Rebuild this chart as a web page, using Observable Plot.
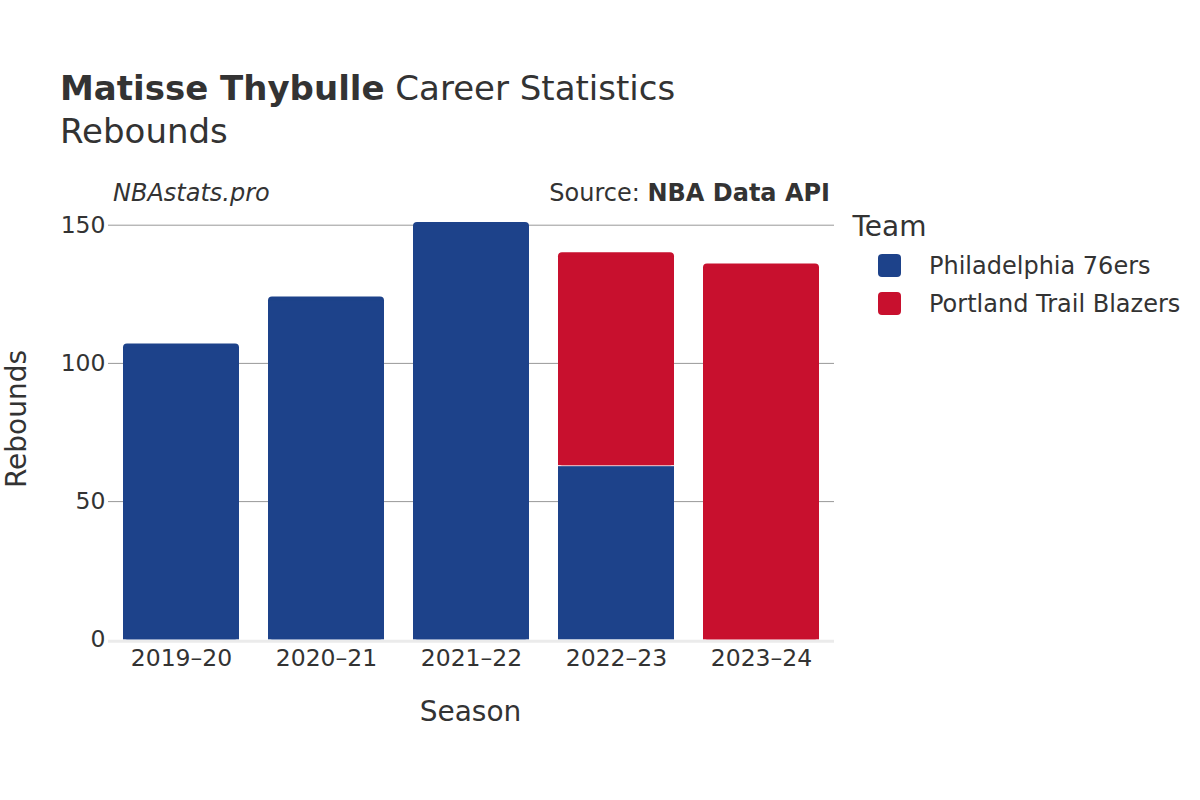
<!DOCTYPE html>
<html>
<head>
<meta charset="utf-8">
<script src="https://cdn.jsdelivr.net/npm/d3@7"></script>
<script src="https://cdn.jsdelivr.net/npm/@observablehq/plot@0.6"></script>
<style>
  html, body { margin: 0; padding: 0; background: #fff; }
  #wrap { position: relative; width: 1200px; height: 800px; overflow: hidden; font-family: "DejaVu Sans", sans-serif; color: #333; }
  #wrap svg { position: absolute; left: 0; top: 0; }
  .t { position: absolute; white-space: nowrap; line-height: 1; }
  .sw { position: absolute; width: 23px; height: 23px; border-radius: 4px; }
</style>
</head>
<body>
<div id="wrap"></div>
<script>
// ---- data ----
const seasons = ["2019–20", "2020–21", "2021–22", "2022–23", "2023–24"];
const teams = ["Philadelphia 76ers", "Portland Trail Blazers"];
const teamColors = ["#1D428A", "#C8102E"];
const rowSeason = ["2019–20", "2020–21", "2021–22", "2022–23", "2022–23", "2023–24"];
const rowTeam = ["Philadelphia 76ers", "Philadelphia 76ers", "Philadelphia 76ers", "Philadelphia 76ers", "Portland Trail Blazers", "Portland Trail Blazers"];
const rowRebounds = [107, 124, 151, 63, 77, 136];
const yTicks = [0, 50, 100, 150];

// ---- stack segments per season (data-derived) ----
const acc = new Map();
const rows = rowSeason.map((s, i) => {
  const y1 = acc.get(s) || 0;
  const y2 = y1 + rowRebounds[i];
  acc.set(s, y2);
  return {season: s, team: rowTeam[i], y1, y2};
});
rows.forEach(r => { r.isTop = r.y2 === acc.get(r.season); });
const topRows = rows.filter(r => r.isTop);
const lowRows = rows.filter(r => !r.isTop);

const wrap = document.getElementById("wrap");

const chart = Plot.plot({
  width: 1200,
  height: 800,
  marginLeft: 108,
  marginRight: 366,
  marginTop: 224.7,
  marginBottom: 160.7,
  x: {domain: seasons, paddingInner: 0.2, paddingOuter: 0.1, label: null},
  y: {domain: [0, 150], label: null},
  color: {domain: teams, range: teamColors},
  style: {fontFamily: "DejaVu Sans", fontSize: "23.5px", color: "#333", background: "transparent"},
  marks: [
    Plot.ruleY(yTicks.filter(d => d > 0), {stroke: "#999", strokeWidth: 1}),
    Plot.ruleY([0], {stroke: "#ebebeb", strokeWidth: 3, dy: 1.5}),
    Plot.barY(lowRows, {x: "season", y1: "y1", y2: "y2", fill: "team", insetTop: 1}),
    Plot.barY(topRows, {x: "season", y1: "y1", y2: "y2", fill: "team", rx: 4}),
    Plot.barY(topRows, {x: "season", y1: "y1", y2: "y2", fill: "team", insetTop: 4}),
    Plot.axisX({tickSize: 0, tickPadding: 10, fontSize: 23.5}),
    Plot.axisY({ticks: yTicks, tickSize: 0, tickPadding: 3, fontSize: 23.5})
  ]
});
wrap.appendChild(chart);

function addText(txt, style, html) {
  const d = document.createElement("div");
  d.className = "t";
  if (html) d.innerHTML = txt; else d.textContent = txt;
  Object.assign(d.style, style);
  wrap.appendChild(d);
  return d;
}

// Title & subtitle
addText('<b>Matisse Thybulle</b> Career Statistics', {left: "60px", top: "71.2px", fontSize: "34px"}, true);
addText('Rebounds', {left: "60px", top: "113.5px", fontSize: "34px"});
// Credits
addText('NBAstats.pro', {left: "113px", top: "180.5px", fontSize: "24px", fontStyle: "italic"});
addText('Source: <b>NBA Data API</b>', {right: "370px", top: "180.5px", fontSize: "24px"}, true);
// Axis titles
addText('Season', {left: "470.5px", top: "698px", fontSize: "28px", transform: "translateX(-50%)"});
addText('Rebounds', {left: "17px", top: "419px", fontSize: "28px", transform: "translate(-50%,-50%) rotate(-90deg)"});
// Legend
addText('Team', {left: "852.5px", top: "213px", fontSize: "28px"});
teams.forEach((t, i) => {
  const sw = document.createElement("div");
  sw.className = "sw";
  sw.style.left = "877.5px";
  sw.style.top = (254 + i * 38.3) + "px";
  sw.style.background = teamColors[i];
  wrap.appendChild(sw);
  addText(t, {left: "929px", top: (253.7 + i * 38.3) + "px", fontSize: "24px"});
});
</script>
</body>
</html>
